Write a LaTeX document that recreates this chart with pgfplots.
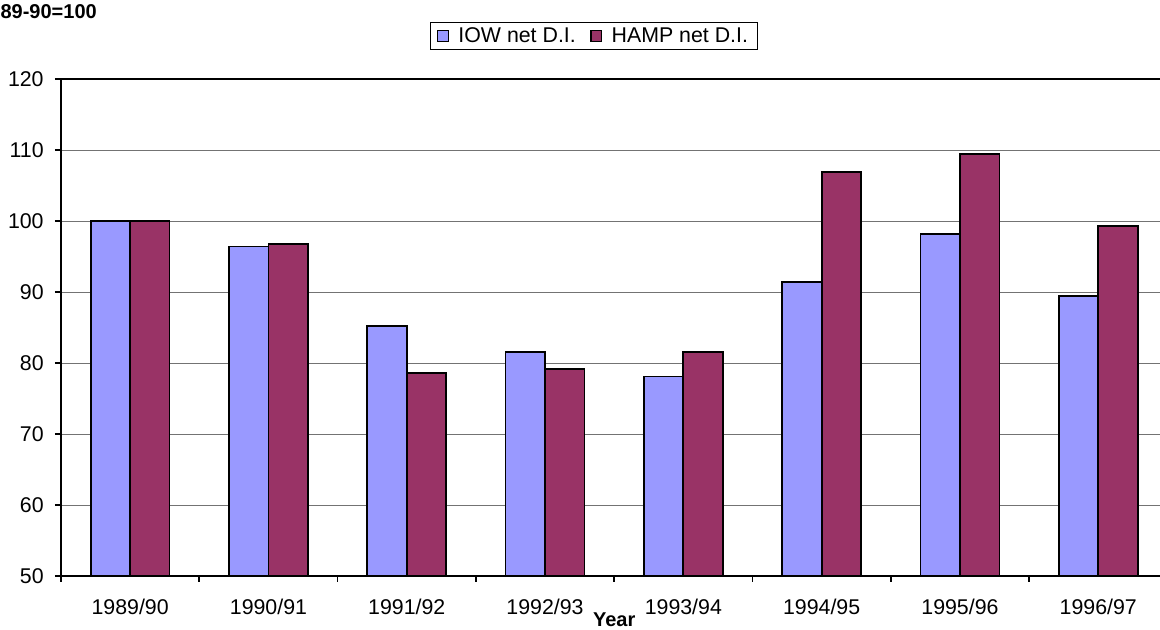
\documentclass[border=0pt]{standalone}
\usepackage{pgfplots}
\pgfplotsset{compat=1.18}
\usepackage{fontspec}
\setmainfont{Liberation Sans}
\definecolor{iow}{RGB}{153,153,255}
\definecolor{hamp}{RGB}{153,51,102}
\begin{document}
\begin{tikzpicture}
\begin{axis}[
  at={(0,0)}, anchor=south west,
  scale only axis, width=829.8pt, height=372.75pt,
  xmin=-0.5, xmax=7.5, ymin=50, ymax=120,
  ytick={50,60,...,120},
  xtick={-0.5,0.5,...,7.5},
  x tick label as interval,
  xticklabels={1989/90,1990/91,1991/92,1992/93,1993/94,1994/95,1995/96,1996/97},
  tick align=outside, tick pos=left,
  major tick length=4.5pt,
  tick style={black, line width=1.2pt},
  ybar=0pt, bar width=29.6pt,
  ymajorgrids, grid style={black!55, line width=0.7pt},
  axis line style={line width=1.5pt},
  /pgf/number format/assume math mode=true,
  ticklabel style={font=\fontsize{16}{18}\selectfont},
  yticklabel style={xshift=-5pt},
  xticklabel style={yshift=-9pt},
  xlabel={Year},
  xlabel style={font=\bfseries\fontsize{15}{17}\selectfont, at={(rel axis cs:0.5,-0.0885)}, anchor=center},
  legend columns=2,
  legend style={at={(0.4817,1.0865)}, anchor=center, draw=black, line width=1pt,
    font=\fontsize{16}{18}\selectfont, inner xsep=5pt, inner ysep=2pt,
    /tikz/every odd column/.append style={column sep=5pt},
    /tikz/every even column/.append style={column sep=9pt}},
  legend image code/.code={\draw[#1, draw=black, line width=0.9pt] (0pt,-4pt) rectangle (8pt,4pt);},
]
\addplot[fill=iow, draw=black, line width=1.3pt] coordinates {
 (0,100) (1,96.4) (2,85.2) (3,81.5) (4,78.1) (5,91.4) (6,98.2) (7,89.4)};
\addlegendentry{IOW net D.I.}
\addplot[fill=hamp, draw=black, line width=1.3pt] coordinates {
 (0,100) (1,96.8) (2,78.6) (3,79.2) (4,81.5) (5,106.9) (6,109.4) (7,99.3)};
\addlegendentry{HAMP net D.I.}
\end{axis}
\node[anchor=west, font=\bfseries\fontsize{15}{17}\selectfont, inner sep=0pt] at (-45.5pt,423pt) {89-90=100};
\pgfresetboundingbox
\path[use as bounding box] (-45.75pt,-40.5pt) rectangle (824.25pt,432pt);
\end{tikzpicture}
\end{document}
